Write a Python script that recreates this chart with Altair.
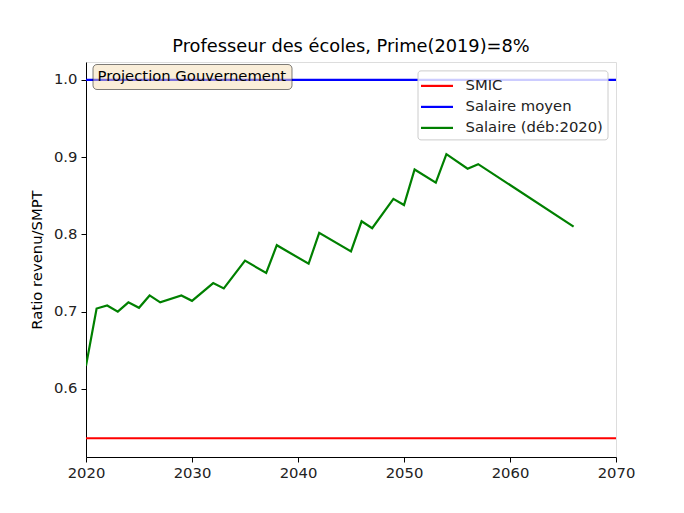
import altair as alt
import pandas as pd

# ---- data ----
years = [2020, 2021, 2022, 2023, 2024, 2025, 2026, 2027, 2029, 2030, 2032, 2033,
         2035, 2037, 2038, 2041, 2042, 2045, 2046, 2047, 2049, 2050, 2051, 2053,
         2054, 2056, 2057, 2066]
salaire = [0.630, 0.704, 0.708, 0.700, 0.712, 0.705, 0.721, 0.712, 0.721, 0.714,
           0.737, 0.730, 0.766, 0.750, 0.786, 0.762, 0.802, 0.778, 0.817, 0.808,
           0.846, 0.838, 0.884, 0.867, 0.904, 0.885, 0.891, 0.810]
smic_years = [2020, 2070]
smic_values = [0.536, 0.536]
moyen_years = [2020, 2070]
moyen_values = [1.0, 1.0]

series_names = ["SMIC", "Salaire moyen", "Salaire (déb:2020)"]
series_colors = ["#ff0000", "#0000ff", "#008000"]
x_ticks = [2020, 2030, 2040, 2050, 2060, 2070]
y_ticks = [0.6, 0.7, 0.8, 0.9, 1.0]

rows = []
for i, (xs, ys) in enumerate([(smic_years, smic_values),
                              (moyen_years, moyen_values),
                              (years, salaire)]):
    for k, (x, y) in enumerate(zip(xs, ys)):
        rows.append({"annee": x, "ratio": y, "serie": series_names[i], "ordre": k})
df = pd.DataFrame(rows)

FONT = "DejaVu Sans"
FS = 14.8

lines = alt.Chart(df).mark_line(strokeWidth=2.2, clip=True).encode(
    x=alt.X("annee:Q",
            scale=alt.Scale(domain=[2020, 2070], nice=False, zero=False),
            axis=alt.Axis(values=x_ticks, format="d", title=None, grid=False,
                          labelFontSize=FS, labelFont=FONT, labelColor="#222222",
                          tickColor="black", tickSize=5, domainColor="black",
                          labelPadding=3, labelFlush=False)),
    y=alt.Y("ratio:Q",
            scale=alt.Scale(domain=[0.51175, 1.02325], nice=False, zero=False),
            axis=alt.Axis(values=y_ticks, format=".1f", title="Ratio revenu/SMPT",
                          grid=False, labelFontSize=FS, labelFont=FONT,
                          labelColor="#222222", tickColor="black", tickSize=5,
                          domainColor="black", labelPadding=4,
                          titleFont=FONT, titleFontSize=FS, titleFontWeight="normal",
                          titleColor="black", titlePadding=9)),
    color=alt.Color("serie:N",
                    scale=alt.Scale(domain=series_names, range=series_colors),
                    legend=alt.Legend(title=None, orient="none", legendX=331.5, legendY=8.4,
                                      symbolType="M-1.6,0H1.6", symbolSize=400,
                                      symbolStrokeWidth=2.2, symbolOffset=4,
                                      labelFont=FONT, labelFontSize=FS,
                                      labelColor="#222222", labelOffset=17,
                                      rowPadding=2, padding=4,
                                      fillColor="rgba(255,255,255,0.8)",
                                      strokeColor="#cccccc", cornerRadius=3)),
    detail="serie:N",
    order="ordre:Q",
)

dummy = alt.Data(values=[{"a": 1}])
box = alt.Chart(dummy).mark_rect(
    fill="#f5deb3", fillOpacity=0.5, stroke="black", strokeOpacity=0.5,
    strokeWidth=1, cornerRadius=4
).encode(x=alt.value(7), x2=alt.value(206), y=alt.value(2.5), y2=alt.value(27.5))

label = alt.Chart(dummy).mark_text(
    text="Projection Gouvernement", font=FONT, fontSize=FS, color="black",
    align="left", baseline="middle"
).encode(x=alt.value(11.5), y=alt.value(15))

chart = alt.layer(lines, box, label).properties(
    width=530, height=395,
    title=alt.TitleParams("Professeur des écoles, Prime(2019)=8%", font=FONT,
                          fontSize=17.8, fontWeight="normal", color="black",
                          anchor="middle", offset=6),
    autosize=alt.AutoSizeParams(type="none"),
    padding={"left": 78, "top": 54, "right": 60, "bottom": 48},
).configure_view(stroke="black", strokeWidth=1).configure(background="white")

chart.save("out.html", embed_options={"renderer": "svg", "actions": False})
